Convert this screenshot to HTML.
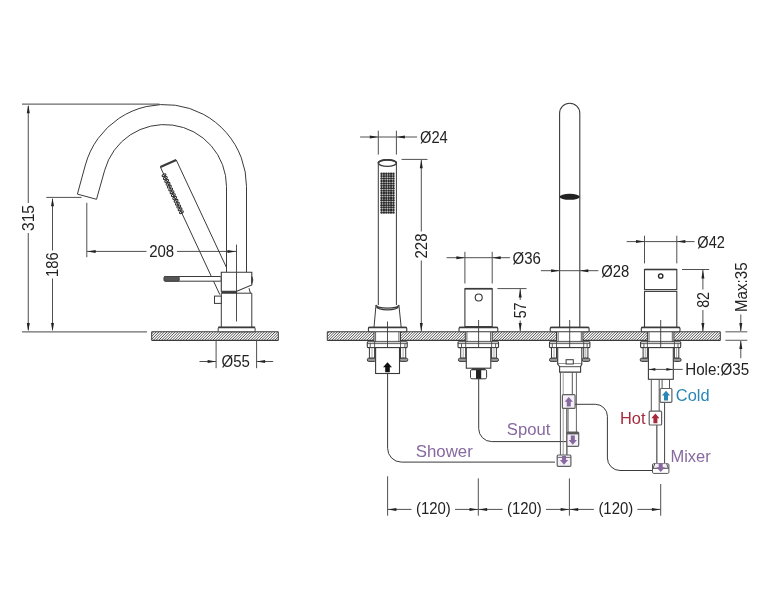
<!DOCTYPE html>
<html><head><meta charset="utf-8"><title>drawing</title>
<style>
html,body{margin:0;padding:0;background:#fff;}
svg{display:block;will-change:transform;}
text{font-family:"Liberation Sans",sans-serif;}
</style></head><body>
<svg width="771" height="600" viewBox="0 0 771 600">
<defs>
<pattern id="hatch" width="1.92" height="1.92" patternUnits="userSpaceOnUse" patternTransform="rotate(40)">
<rect x="0" y="0" width="0.95" height="1.92" fill="#3c3c3c"/>
</pattern>
<pattern id="knurl" x="380.4" y="172.2" width="2.383" height="2.406" patternUnits="userSpaceOnUse">
<rect width="2.4" height="2.42" fill="#fff"/>
<circle cx="1.19" cy="1.2" r="1.02" fill="#303030"/>
</pattern>
</defs>
<rect width="771" height="600" fill="#fff"/>
<line x1="22" y1="104.2" x2="159.5" y2="104.2" stroke="#6a6a6a" stroke-width="1.2"/>
<line x1="22" y1="331.9" x2="147" y2="331.9" stroke="#6a6a6a" stroke-width="1.2"/>
<line x1="28.3" y1="106" x2="28.3" y2="203" stroke="#6a6a6a" stroke-width="1.2"/>
<line x1="28.3" y1="233" x2="28.3" y2="330" stroke="#6a6a6a" stroke-width="1.2"/>
<polygon points="28.30,104.80 26.80,113.30 29.80,113.30" fill="#222"/>
<polygon points="28.30,331.50 26.80,323.00 29.80,323.00" fill="#222"/>
<text x="33.7" y="218" font-size="16" fill="#222" text-anchor="middle" textLength="26" lengthAdjust="spacingAndGlyphs" transform="rotate(-90 33.7 218)">315</text>
<line x1="46.3" y1="197.4" x2="81.6" y2="197.4" stroke="#505050" stroke-width="1"/>
<line x1="52.5" y1="199" x2="52.5" y2="250.5" stroke="#505050" stroke-width="1"/>
<line x1="52.5" y1="278.5" x2="52.5" y2="330" stroke="#505050" stroke-width="1"/>
<polygon points="52.50,197.80 51.00,206.30 54.00,206.30" fill="#222"/>
<polygon points="52.50,331.50 51.00,323.00 54.00,323.00" fill="#222"/>
<text x="58" y="264.7" font-size="16" fill="#222" text-anchor="middle" textLength="24.5" lengthAdjust="spacingAndGlyphs" transform="rotate(-90 58 264.7)">186</text>
<line x1="86.8" y1="202.8" x2="86.8" y2="257.2" stroke="#505050" stroke-width="1"/>
<line x1="86.8" y1="251.4" x2="146.5" y2="251.4" stroke="#505050" stroke-width="1"/>
<line x1="177" y1="251.4" x2="236.4" y2="251.4" stroke="#505050" stroke-width="1"/>
<polygon points="87.20,251.40 95.70,249.90 95.70,252.90" fill="#222"/>
<polygon points="236.00,251.40 227.50,249.90 227.50,252.90" fill="#222"/>
<text x="149.2" y="256.7" font-size="16" fill="#222" text-anchor="start" textLength="25" lengthAdjust="spacingAndGlyphs">208</text>
<clipPath id="hc1"><rect x="151.7" y="331.8" width="126.6" height="8.6"/></clipPath>
<g clip-path="url(#hc1)"><path d="M141.90 340.90L151.50 331.30M144.60 340.90L154.20 331.30M147.30 340.90L156.90 331.30M150.00 340.90L159.60 331.30M152.70 340.90L162.30 331.30M155.40 340.90L165.00 331.30M158.10 340.90L167.70 331.30M160.80 340.90L170.40 331.30M163.50 340.90L173.10 331.30M166.20 340.90L175.80 331.30M168.90 340.90L178.50 331.30M171.60 340.90L181.20 331.30M174.30 340.90L183.90 331.30M177.00 340.90L186.60 331.30M179.70 340.90L189.30 331.30M182.40 340.90L192.00 331.30M185.10 340.90L194.70 331.30M187.80 340.90L197.40 331.30M190.50 340.90L200.10 331.30M193.20 340.90L202.80 331.30M195.90 340.90L205.50 331.30M198.60 340.90L208.20 331.30M201.30 340.90L210.90 331.30M204.00 340.90L213.60 331.30M206.70 340.90L216.30 331.30M209.40 340.90L219.00 331.30M212.10 340.90L221.70 331.30M214.80 340.90L224.40 331.30M217.50 340.90L227.10 331.30M220.20 340.90L229.80 331.30M222.90 340.90L232.50 331.30M225.60 340.90L235.20 331.30M228.30 340.90L237.90 331.30M231.00 340.90L240.60 331.30M233.70 340.90L243.30 331.30M236.40 340.90L246.00 331.30M239.10 340.90L248.70 331.30M241.80 340.90L251.40 331.30M244.50 340.90L254.10 331.30M247.20 340.90L256.80 331.30M249.90 340.90L259.50 331.30M252.60 340.90L262.20 331.30M255.30 340.90L264.90 331.30M258.00 340.90L267.60 331.30M260.70 340.90L270.30 331.30M263.40 340.90L273.00 331.30M266.10 340.90L275.70 331.30M268.80 340.90L278.40 331.30M271.50 340.90L281.10 331.30M274.20 340.90L283.80 331.30M276.90 340.90L286.50 331.30" stroke="#444" stroke-width="0.92" fill="none"/></g>
<line x1="151.7" y1="331.8" x2="278.3" y2="331.8" stroke="#3a3a3a" stroke-width="1.1"/>
<line x1="151.7" y1="340.4" x2="278.3" y2="340.4" stroke="#3a3a3a" stroke-width="1.1"/>
<line x1="151.7" y1="331.8" x2="151.7" y2="340.4" stroke="#3a3a3a" stroke-width="1"/>
<line x1="278.3" y1="331.8" x2="278.3" y2="340.4" stroke="#3a3a3a" stroke-width="1"/>
<path d="M246.5 272 V186.5 A82 82 0 0 0 85.4 164.9 L77.4 194.1 L96.5 199.3 L104.7 170.2 A62 62 0 0 1 226.5 186.5 V272" fill="none" stroke="#3a3a3a" stroke-width="1"/>
<line x1="160.4" y1="167.1" x2="219.8" y2="294.6" stroke="#3a3a3a" stroke-width="1"/>
<line x1="176.2" y1="159.9" x2="226.5" y2="267.6" stroke="#3a3a3a" stroke-width="1"/>
<path d="M160.4 167.1 L176.2 159.9" fill="none" stroke="#3a3a3a" stroke-width="2.2"/>
<ellipse cx="164.00" cy="175.20" rx="2.1" ry="1.15" transform="rotate(-25 164.00 175.20)" fill="none" stroke="#2e2e2e" stroke-width="1.05"/>
<ellipse cx="165.34" cy="178.05" rx="2.1" ry="1.15" transform="rotate(-25 165.34 178.05)" fill="none" stroke="#2e2e2e" stroke-width="1.05"/>
<ellipse cx="166.68" cy="180.89" rx="2.1" ry="1.15" transform="rotate(-25 166.68 180.89)" fill="none" stroke="#2e2e2e" stroke-width="1.05"/>
<ellipse cx="168.02" cy="183.74" rx="2.1" ry="1.15" transform="rotate(-25 168.02 183.74)" fill="none" stroke="#2e2e2e" stroke-width="1.05"/>
<ellipse cx="169.35" cy="186.58" rx="2.1" ry="1.15" transform="rotate(-25 169.35 186.58)" fill="none" stroke="#2e2e2e" stroke-width="1.05"/>
<ellipse cx="170.69" cy="189.43" rx="2.1" ry="1.15" transform="rotate(-25 170.69 189.43)" fill="none" stroke="#2e2e2e" stroke-width="1.05"/>
<ellipse cx="172.03" cy="192.28" rx="2.1" ry="1.15" transform="rotate(-25 172.03 192.28)" fill="none" stroke="#2e2e2e" stroke-width="1.05"/>
<ellipse cx="173.37" cy="195.12" rx="2.1" ry="1.15" transform="rotate(-25 173.37 195.12)" fill="none" stroke="#2e2e2e" stroke-width="1.05"/>
<ellipse cx="174.71" cy="197.97" rx="2.1" ry="1.15" transform="rotate(-25 174.71 197.97)" fill="none" stroke="#2e2e2e" stroke-width="1.05"/>
<ellipse cx="176.05" cy="200.82" rx="2.1" ry="1.15" transform="rotate(-25 176.05 200.82)" fill="none" stroke="#2e2e2e" stroke-width="1.05"/>
<ellipse cx="177.38" cy="203.66" rx="2.1" ry="1.15" transform="rotate(-25 177.38 203.66)" fill="none" stroke="#2e2e2e" stroke-width="1.05"/>
<ellipse cx="178.72" cy="206.51" rx="2.1" ry="1.15" transform="rotate(-25 178.72 206.51)" fill="none" stroke="#2e2e2e" stroke-width="1.05"/>
<ellipse cx="180.06" cy="209.35" rx="2.1" ry="1.15" transform="rotate(-25 180.06 209.35)" fill="none" stroke="#2e2e2e" stroke-width="1.05"/>
<ellipse cx="181.40" cy="212.20" rx="2.1" ry="1.15" transform="rotate(-25 181.40 212.20)" fill="none" stroke="#2e2e2e" stroke-width="1.05"/>
<rect x="164.2" y="276.5" width="57.1" height="4.7" rx="1" fill="#fff" stroke="#3a3a3a" stroke-width="1"/>
<rect x="164.2" y="276.5" width="15.0" height="4.7" rx="1" fill="#555" stroke="#444" stroke-width="1"/>
<path d="M221.3 272.3 H251.8 V285 L236.8 291.3 H221.3 Z" fill="#fff" stroke="#3a3a3a" stroke-width="1.1"/>
<path d="M251.8 276.6 Q254 280 251.8 283.4 Z" fill="#333" stroke="#3a3a3a" stroke-width="0.8"/>
<path d="M221.3 292.2 H237" fill="none" stroke="#3a3a3a" stroke-width="2"/>
<path d="M221.3 293.2 H251.8 M249 288.2 L250.4 293.2" fill="none" stroke="#3a3a3a" stroke-width="1"/>
<line x1="221.3" y1="293.2" x2="221.3" y2="327.3" stroke="#3a3a3a" stroke-width="1"/>
<line x1="251.8" y1="293.2" x2="251.8" y2="327.3" stroke="#3a3a3a" stroke-width="1"/>
<rect x="214.5" y="296.1" width="6.8" height="7.3" rx="0" fill="#fff" stroke="#3a3a3a" stroke-width="1"/>
<rect x="218.2" y="327.4" width="36.9" height="4.4" rx="1" fill="#fff" stroke="#3a3a3a" stroke-width="1"/>
<path d="M218.2 327.4 H255.1" fill="none" stroke="#3a3a3a" stroke-width="1.6"/>
<line x1="236.5" y1="244.6" x2="236.5" y2="321.5" stroke="#3a3a3a" stroke-width="0.9"/>
<line x1="216.1" y1="340.4" x2="216.1" y2="368.2" stroke="#505050" stroke-width="1"/>
<line x1="256.6" y1="340.4" x2="256.6" y2="368.2" stroke="#505050" stroke-width="1"/>
<line x1="199.5" y1="361.5" x2="216.1" y2="361.5" stroke="#505050" stroke-width="1"/>
<line x1="256.6" y1="361.5" x2="273.2" y2="361.5" stroke="#505050" stroke-width="1"/>
<polygon points="216.10,361.50 207.60,360.00 207.60,363.00" fill="#222"/>
<polygon points="256.60,361.50 265.10,360.00 265.10,363.00" fill="#222"/>
<text x="221.5" y="367" font-size="16" fill="#222" text-anchor="start" textLength="28.4" lengthAdjust="spacingAndGlyphs">Ø55</text>
<clipPath id="hc2"><rect x="327.3" y="331.8" width="393.0" height="8.6"/></clipPath>
<g clip-path="url(#hc2)"><path d="M317.50 340.90L327.10 331.30M320.20 340.90L329.80 331.30M322.90 340.90L332.50 331.30M325.60 340.90L335.20 331.30M328.30 340.90L337.90 331.30M331.00 340.90L340.60 331.30M333.70 340.90L343.30 331.30M336.40 340.90L346.00 331.30M339.10 340.90L348.70 331.30M341.80 340.90L351.40 331.30M344.50 340.90L354.10 331.30M347.20 340.90L356.80 331.30M349.90 340.90L359.50 331.30M352.60 340.90L362.20 331.30M355.30 340.90L364.90 331.30M358.00 340.90L367.60 331.30M360.70 340.90L370.30 331.30M363.40 340.90L373.00 331.30M366.10 340.90L375.70 331.30M368.80 340.90L378.40 331.30M371.50 340.90L381.10 331.30M374.20 340.90L383.80 331.30M376.90 340.90L386.50 331.30M379.60 340.90L389.20 331.30M382.30 340.90L391.90 331.30M385.00 340.90L394.60 331.30M387.70 340.90L397.30 331.30M390.40 340.90L400.00 331.30M393.10 340.90L402.70 331.30M395.80 340.90L405.40 331.30M398.50 340.90L408.10 331.30M401.20 340.90L410.80 331.30M403.90 340.90L413.50 331.30M406.60 340.90L416.20 331.30M409.30 340.90L418.90 331.30M412.00 340.90L421.60 331.30M414.70 340.90L424.30 331.30M417.40 340.90L427.00 331.30M420.10 340.90L429.70 331.30M422.80 340.90L432.40 331.30M425.50 340.90L435.10 331.30M428.20 340.90L437.80 331.30M430.90 340.90L440.50 331.30M433.60 340.90L443.20 331.30M436.30 340.90L445.90 331.30M439.00 340.90L448.60 331.30M441.70 340.90L451.30 331.30M444.40 340.90L454.00 331.30M447.10 340.90L456.70 331.30M449.80 340.90L459.40 331.30M452.50 340.90L462.10 331.30M455.20 340.90L464.80 331.30M457.90 340.90L467.50 331.30M460.60 340.90L470.20 331.30M463.30 340.90L472.90 331.30M466.00 340.90L475.60 331.30M468.70 340.90L478.30 331.30M471.40 340.90L481.00 331.30M474.10 340.90L483.70 331.30M476.80 340.90L486.40 331.30M479.50 340.90L489.10 331.30M482.20 340.90L491.80 331.30M484.90 340.90L494.50 331.30M487.60 340.90L497.20 331.30M490.30 340.90L499.90 331.30M493.00 340.90L502.60 331.30M495.70 340.90L505.30 331.30M498.40 340.90L508.00 331.30M501.10 340.90L510.70 331.30M503.80 340.90L513.40 331.30M506.50 340.90L516.10 331.30M509.20 340.90L518.80 331.30M511.90 340.90L521.50 331.30M514.60 340.90L524.20 331.30M517.30 340.90L526.90 331.30M520.00 340.90L529.60 331.30M522.70 340.90L532.30 331.30M525.40 340.90L535.00 331.30M528.10 340.90L537.70 331.30M530.80 340.90L540.40 331.30M533.50 340.90L543.10 331.30M536.20 340.90L545.80 331.30M538.90 340.90L548.50 331.30M541.60 340.90L551.20 331.30M544.30 340.90L553.90 331.30M547.00 340.90L556.60 331.30M549.70 340.90L559.30 331.30M552.40 340.90L562.00 331.30M555.10 340.90L564.70 331.30M557.80 340.90L567.40 331.30M560.50 340.90L570.10 331.30M563.20 340.90L572.80 331.30M565.90 340.90L575.50 331.30M568.60 340.90L578.20 331.30M571.30 340.90L580.90 331.30M574.00 340.90L583.60 331.30M576.70 340.90L586.30 331.30M579.40 340.90L589.00 331.30M582.10 340.90L591.70 331.30M584.80 340.90L594.40 331.30M587.50 340.90L597.10 331.30M590.20 340.90L599.80 331.30M592.90 340.90L602.50 331.30M595.60 340.90L605.20 331.30M598.30 340.90L607.90 331.30M601.00 340.90L610.60 331.30M603.70 340.90L613.30 331.30M606.40 340.90L616.00 331.30M609.10 340.90L618.70 331.30M611.80 340.90L621.40 331.30M614.50 340.90L624.10 331.30M617.20 340.90L626.80 331.30M619.90 340.90L629.50 331.30M622.60 340.90L632.20 331.30M625.30 340.90L634.90 331.30M628.00 340.90L637.60 331.30M630.70 340.90L640.30 331.30M633.40 340.90L643.00 331.30M636.10 340.90L645.70 331.30M638.80 340.90L648.40 331.30M641.50 340.90L651.10 331.30M644.20 340.90L653.80 331.30M646.90 340.90L656.50 331.30M649.60 340.90L659.20 331.30M652.30 340.90L661.90 331.30M655.00 340.90L664.60 331.30M657.70 340.90L667.30 331.30M660.40 340.90L670.00 331.30M663.10 340.90L672.70 331.30M665.80 340.90L675.40 331.30M668.50 340.90L678.10 331.30M671.20 340.90L680.80 331.30M673.90 340.90L683.50 331.30M676.60 340.90L686.20 331.30M679.30 340.90L688.90 331.30M682.00 340.90L691.60 331.30M684.70 340.90L694.30 331.30M687.40 340.90L697.00 331.30M690.10 340.90L699.70 331.30M692.80 340.90L702.40 331.30M695.50 340.90L705.10 331.30M698.20 340.90L707.80 331.30M700.90 340.90L710.50 331.30M703.60 340.90L713.20 331.30M706.30 340.90L715.90 331.30M709.00 340.90L718.60 331.30M711.70 340.90L721.30 331.30M714.40 340.90L724.00 331.30M717.10 340.90L726.70 331.30M719.80 340.90L729.40 331.30" stroke="#444" stroke-width="0.92" fill="none"/></g>
<line x1="327.3" y1="331.8" x2="720.3" y2="331.8" stroke="#3a3a3a" stroke-width="1.1"/>
<line x1="327.3" y1="340.4" x2="720.3" y2="340.4" stroke="#3a3a3a" stroke-width="1.1"/>
<line x1="327.3" y1="331.8" x2="327.3" y2="340.4" stroke="#3a3a3a" stroke-width="1"/>
<line x1="720.3" y1="331.8" x2="720.3" y2="340.4" stroke="#3a3a3a" stroke-width="1"/>
<path d="M378.3 163.1 V305 M396.4 163.1 V305" fill="none" stroke="#3a3a3a" stroke-width="1"/>
<ellipse cx="387.35" cy="163.1" rx="9.05" ry="3.3" fill="#fff" stroke="#3a3a3a" stroke-width="1.4"/>
<path d="M378.3 163.1 A9.05 3.3 0 0 1 396.4 163.1" fill="none" stroke="#3a3a3a" stroke-width="1.8"/>
<g fill="#2c2c2c"><circle cx="381.55" cy="173.70" r="1.22"/><circle cx="383.93" cy="173.70" r="1.22"/><circle cx="386.31" cy="173.70" r="1.22"/><circle cx="388.69" cy="173.70" r="1.22"/><circle cx="391.07" cy="173.70" r="1.22"/><circle cx="393.45" cy="173.70" r="1.22"/><circle cx="381.55" cy="176.12" r="1.22"/><circle cx="383.93" cy="176.12" r="1.22"/><circle cx="386.31" cy="176.12" r="1.22"/><circle cx="388.69" cy="176.12" r="1.22"/><circle cx="391.07" cy="176.12" r="1.22"/><circle cx="393.45" cy="176.12" r="1.22"/><circle cx="381.55" cy="178.54" r="1.22"/><circle cx="383.93" cy="178.54" r="1.22"/><circle cx="386.31" cy="178.54" r="1.22"/><circle cx="388.69" cy="178.54" r="1.22"/><circle cx="391.07" cy="178.54" r="1.22"/><circle cx="393.45" cy="178.54" r="1.22"/><circle cx="381.55" cy="180.96" r="1.22"/><circle cx="383.93" cy="180.96" r="1.22"/><circle cx="386.31" cy="180.96" r="1.22"/><circle cx="388.69" cy="180.96" r="1.22"/><circle cx="391.07" cy="180.96" r="1.22"/><circle cx="393.45" cy="180.96" r="1.22"/><circle cx="381.55" cy="183.38" r="1.22"/><circle cx="383.93" cy="183.38" r="1.22"/><circle cx="386.31" cy="183.38" r="1.22"/><circle cx="388.69" cy="183.38" r="1.22"/><circle cx="391.07" cy="183.38" r="1.22"/><circle cx="393.45" cy="183.38" r="1.22"/><circle cx="381.55" cy="185.80" r="1.22"/><circle cx="383.93" cy="185.80" r="1.22"/><circle cx="386.31" cy="185.80" r="1.22"/><circle cx="388.69" cy="185.80" r="1.22"/><circle cx="391.07" cy="185.80" r="1.22"/><circle cx="393.45" cy="185.80" r="1.22"/><circle cx="381.55" cy="188.22" r="1.22"/><circle cx="383.93" cy="188.22" r="1.22"/><circle cx="386.31" cy="188.22" r="1.22"/><circle cx="388.69" cy="188.22" r="1.22"/><circle cx="391.07" cy="188.22" r="1.22"/><circle cx="393.45" cy="188.22" r="1.22"/><circle cx="381.55" cy="190.64" r="1.22"/><circle cx="383.93" cy="190.64" r="1.22"/><circle cx="386.31" cy="190.64" r="1.22"/><circle cx="388.69" cy="190.64" r="1.22"/><circle cx="391.07" cy="190.64" r="1.22"/><circle cx="393.45" cy="190.64" r="1.22"/><circle cx="381.55" cy="193.06" r="1.22"/><circle cx="383.93" cy="193.06" r="1.22"/><circle cx="386.31" cy="193.06" r="1.22"/><circle cx="388.69" cy="193.06" r="1.22"/><circle cx="391.07" cy="193.06" r="1.22"/><circle cx="393.45" cy="193.06" r="1.22"/><circle cx="381.55" cy="195.48" r="1.22"/><circle cx="383.93" cy="195.48" r="1.22"/><circle cx="386.31" cy="195.48" r="1.22"/><circle cx="388.69" cy="195.48" r="1.22"/><circle cx="391.07" cy="195.48" r="1.22"/><circle cx="393.45" cy="195.48" r="1.22"/><circle cx="381.55" cy="197.90" r="1.22"/><circle cx="383.93" cy="197.90" r="1.22"/><circle cx="386.31" cy="197.90" r="1.22"/><circle cx="388.69" cy="197.90" r="1.22"/><circle cx="391.07" cy="197.90" r="1.22"/><circle cx="393.45" cy="197.90" r="1.22"/><circle cx="381.55" cy="200.32" r="1.22"/><circle cx="383.93" cy="200.32" r="1.22"/><circle cx="386.31" cy="200.32" r="1.22"/><circle cx="388.69" cy="200.32" r="1.22"/><circle cx="391.07" cy="200.32" r="1.22"/><circle cx="393.45" cy="200.32" r="1.22"/><circle cx="381.55" cy="202.74" r="1.22"/><circle cx="383.93" cy="202.74" r="1.22"/><circle cx="386.31" cy="202.74" r="1.22"/><circle cx="388.69" cy="202.74" r="1.22"/><circle cx="391.07" cy="202.74" r="1.22"/><circle cx="393.45" cy="202.74" r="1.22"/><circle cx="381.55" cy="205.16" r="1.22"/><circle cx="383.93" cy="205.16" r="1.22"/><circle cx="386.31" cy="205.16" r="1.22"/><circle cx="388.69" cy="205.16" r="1.22"/><circle cx="391.07" cy="205.16" r="1.22"/><circle cx="393.45" cy="205.16" r="1.22"/><circle cx="381.55" cy="207.58" r="1.22"/><circle cx="383.93" cy="207.58" r="1.22"/><circle cx="386.31" cy="207.58" r="1.22"/><circle cx="388.69" cy="207.58" r="1.22"/><circle cx="391.07" cy="207.58" r="1.22"/><circle cx="393.45" cy="207.58" r="1.22"/><circle cx="381.55" cy="210.00" r="1.22"/><circle cx="383.93" cy="210.00" r="1.22"/><circle cx="386.31" cy="210.00" r="1.22"/><circle cx="388.69" cy="210.00" r="1.22"/><circle cx="391.07" cy="210.00" r="1.22"/><circle cx="393.45" cy="210.00" r="1.22"/><circle cx="381.55" cy="212.42" r="1.22"/><circle cx="383.93" cy="212.42" r="1.22"/><circle cx="386.31" cy="212.42" r="1.22"/><circle cx="388.69" cy="212.42" r="1.22"/><circle cx="391.07" cy="212.42" r="1.22"/><circle cx="393.45" cy="212.42" r="1.22"/></g>
<path d="M376 305 A11.5 3.4 0 0 0 398.9 305 M376.4 306.8 A11.2 3.6 0 0 0 398.5 306.8" fill="none" stroke="#3a3a3a" stroke-width="1.3"/>
<path d="M376 305 L374 327.4 M398.9 305 L401.2 327.4" fill="none" stroke="#3a3a3a" stroke-width="1"/>
<rect x="374" y="331.3" width="26.5" height="9.6" fill="#fff"/>
<line x1="374" y1="331.8" x2="374" y2="341.8" stroke="#3a3a3a" stroke-width="1"/>
<line x1="400.5" y1="331.8" x2="400.5" y2="341.8" stroke="#3a3a3a" stroke-width="1"/>
<line x1="375.6" y1="331.8" x2="375.6" y2="341.8" stroke="#3a3a3a" stroke-width="0.8"/>
<line x1="398.9" y1="331.8" x2="398.9" y2="341.8" stroke="#3a3a3a" stroke-width="0.8"/>
<rect x="368.4" y="327.4" width="38.4" height="4.3" rx="1.2" fill="#fff" stroke="#3a3a3a" stroke-width="1.1"/>
<path d="M368.4 327.4 H406.8" fill="none" stroke="#3a3a3a" stroke-width="1.5"/>
<rect x="367.3" y="341.8" width="39.9" height="5.8" rx="0.8" fill="#fff" stroke="#3a3a3a" stroke-width="1.1"/>
<line x1="367.3" y1="343.6" x2="407.2" y2="343.6" stroke="#3a3a3a" stroke-width="0.8"/>
<line x1="374.6" y1="341.8" x2="374.6" y2="347.6" stroke="#3a3a3a" stroke-width="0.8"/>
<line x1="400.5" y1="341.8" x2="400.5" y2="347.6" stroke="#3a3a3a" stroke-width="0.8"/>
<line x1="370.2" y1="343.6" x2="370.2" y2="347.6" stroke="#3a3a3a" stroke-width="0.8"/>
<line x1="404.9" y1="343.6" x2="404.9" y2="347.6" stroke="#3a3a3a" stroke-width="0.8"/>
<rect x="369.4" y="347.6" width="5.2" height="10.6" rx="0" fill="#fff" stroke="#3a3a3a" stroke-width="1"/>
<rect x="400.5" y="347.6" width="5.2" height="10.6" rx="0" fill="#fff" stroke="#3a3a3a" stroke-width="1"/>
<line x1="372.0" y1="347.6" x2="372.0" y2="358.2" stroke="#888" stroke-width="0.7"/>
<line x1="403.1" y1="347.6" x2="403.1" y2="358.2" stroke="#888" stroke-width="0.7"/>
<rect x="367.3" y="358.2" width="8.7" height="3.2" rx="1.5" fill="#999" stroke="#3a3a3a" stroke-width="1"/>
<rect x="399.5" y="358.2" width="8.3" height="3.2" rx="1.5" fill="#999" stroke="#3a3a3a" stroke-width="1"/>
<rect x="375.6" y="347.6" width="23.9" height="25.9" rx="0" fill="#fff" stroke="#3a3a3a" stroke-width="1.1"/>
<line x1="387.5" y1="321.5" x2="387.5" y2="347.6" stroke="#3a3a3a" stroke-width="0.9"/>
<polygon points="387.5,362.2 392,367.2 389.8,367.2 389.8,372.2 385.2,372.2 385.2,367.2 383,367.2" fill="#111"/>
<path d="M387.6 373.5 V448.3 A13.8 13.8 0 0 0 401.4 462.1 H555" fill="none" stroke="#3a3a3a" stroke-width="1"/>
<line x1="378.3" y1="130.7" x2="378.3" y2="154.6" stroke="#505050" stroke-width="1"/>
<line x1="396.4" y1="130.7" x2="396.4" y2="154.6" stroke="#505050" stroke-width="1"/>
<line x1="360.1" y1="137" x2="417.1" y2="137" stroke="#505050" stroke-width="1"/>
<polygon points="378.30,137.00 369.80,135.50 369.80,138.50" fill="#222"/>
<polygon points="396.40,137.00 404.90,135.50 404.90,138.50" fill="#222"/>
<text x="420" y="143.3" font-size="16" fill="#222" text-anchor="start" textLength="27.8" lengthAdjust="spacingAndGlyphs">Ø24</text>
<line x1="401.6" y1="159.4" x2="427.5" y2="159.4" stroke="#505050" stroke-width="1"/>
<line x1="421.3" y1="160" x2="421.3" y2="231.5" stroke="#505050" stroke-width="1"/>
<line x1="421.3" y1="260.5" x2="421.3" y2="331" stroke="#505050" stroke-width="1"/>
<polygon points="421.30,159.80 419.80,168.30 422.80,168.30" fill="#222"/>
<polygon points="421.30,331.60 419.80,323.10 422.80,323.10" fill="#222"/>
<text x="427.2" y="246" font-size="16" fill="#222" text-anchor="middle" textLength="25" lengthAdjust="spacingAndGlyphs" transform="rotate(-90 427.2 246)">228</text>
<rect x="464.9" y="288.7" width="27.3" height="37.9" rx="0" fill="#fff" stroke="#3a3a3a" stroke-width="1.1"/>
<path d="M464.9 288.7 H492.2" fill="none" stroke="#3a3a3a" stroke-width="1.6"/>
<circle cx="478.7" cy="297.5" r="3.5" fill="none" stroke="#333" stroke-width="1.1"/>
<rect x="465.3" y="331.3" width="26.9" height="9.6" fill="#fff"/>
<line x1="465.3" y1="331.8" x2="465.3" y2="341.8" stroke="#3a3a3a" stroke-width="1"/>
<line x1="492.2" y1="331.8" x2="492.2" y2="341.8" stroke="#3a3a3a" stroke-width="1"/>
<line x1="466.90000000000003" y1="331.8" x2="466.90000000000003" y2="341.8" stroke="#3a3a3a" stroke-width="0.8"/>
<line x1="490.59999999999997" y1="331.8" x2="490.59999999999997" y2="341.8" stroke="#3a3a3a" stroke-width="0.8"/>
<rect x="459" y="327.4" width="38.8" height="4.3" rx="1.2" fill="#fff" stroke="#3a3a3a" stroke-width="1.1"/>
<path d="M459 327.4 H497.8" fill="none" stroke="#3a3a3a" stroke-width="1.5"/>
<rect x="458" y="341.8" width="40.5" height="5.8" rx="0.8" fill="#fff" stroke="#3a3a3a" stroke-width="1.1"/>
<line x1="458" y1="343.6" x2="498.5" y2="343.6" stroke="#3a3a3a" stroke-width="0.8"/>
<line x1="465.7" y1="341.8" x2="465.7" y2="347.6" stroke="#3a3a3a" stroke-width="0.8"/>
<line x1="491.6" y1="341.8" x2="491.6" y2="347.6" stroke="#3a3a3a" stroke-width="0.8"/>
<line x1="461.5" y1="343.6" x2="461.5" y2="347.6" stroke="#3a3a3a" stroke-width="0.8"/>
<line x1="495.59999999999997" y1="343.6" x2="495.59999999999997" y2="347.6" stroke="#3a3a3a" stroke-width="0.8"/>
<rect x="460.7" y="347.6" width="5.0" height="10.6" rx="0" fill="#fff" stroke="#3a3a3a" stroke-width="1"/>
<rect x="491.6" y="347.6" width="4.8" height="10.6" rx="0" fill="#fff" stroke="#3a3a3a" stroke-width="1"/>
<line x1="463.2" y1="347.6" x2="463.2" y2="358.2" stroke="#888" stroke-width="0.7"/>
<line x1="494.0" y1="347.6" x2="494.0" y2="358.2" stroke="#888" stroke-width="0.7"/>
<rect x="458.4" y="358.2" width="8.9" height="3.2" rx="1.5" fill="#999" stroke="#3a3a3a" stroke-width="1"/>
<rect x="490.2" y="358.2" width="8.3" height="3.2" rx="1.5" fill="#999" stroke="#3a3a3a" stroke-width="1"/>
<rect x="466.3" y="347.6" width="24.5" height="20.6" rx="0" fill="#fff" stroke="#3a3a3a" stroke-width="1.1"/>
<line x1="478.6" y1="320" x2="478.6" y2="347.6" stroke="#3a3a3a" stroke-width="0.9"/>
<rect x="470.5" y="369.6" width="16.1" height="9.2" rx="1.5" fill="#fff" stroke="#3a3a3a" stroke-width="1"/>
<rect x="476" y="369.6" width="5.2" height="9.2" fill="#222"/>
<path d="M472 369.2 H485" fill="none" stroke="#3a3a3a" stroke-width="2"/>
<path d="M478.7 378.8 V428.6 A13 13 0 0 0 491.7 441.6 H567" fill="none" stroke="#3a3a3a" stroke-width="1"/>
<line x1="464.9" y1="251.8" x2="464.9" y2="283.5" stroke="#505050" stroke-width="1"/>
<line x1="492.2" y1="251.8" x2="492.2" y2="283.5" stroke="#505050" stroke-width="1"/>
<line x1="446.6" y1="257.7" x2="509.9" y2="257.7" stroke="#505050" stroke-width="1"/>
<polygon points="464.90,257.70 456.40,256.20 456.40,259.20" fill="#222"/>
<polygon points="492.20,257.70 500.70,256.20 500.70,259.20" fill="#222"/>
<text x="512.6" y="264" font-size="16" fill="#222" text-anchor="start" textLength="28.3" lengthAdjust="spacingAndGlyphs">Ø36</text>
<line x1="497.4" y1="288.6" x2="526.5" y2="288.6" stroke="#505050" stroke-width="1"/>
<line x1="520.2" y1="289" x2="520.2" y2="300" stroke="#505050" stroke-width="1"/>
<line x1="520.2" y1="320.5" x2="520.2" y2="331" stroke="#505050" stroke-width="1"/>
<polygon points="520.20,289.00 518.70,297.50 521.70,297.50" fill="#222"/>
<polygon points="520.20,331.60 518.70,323.10 521.70,323.10" fill="#222"/>
<text x="526.2" y="310.4" font-size="16" fill="#222" text-anchor="middle" textLength="15.8" lengthAdjust="spacingAndGlyphs" transform="rotate(-90 526.2 310.4)">57</text>
<path d="M559.6 327.4 V113.3 A10.1 10.1 0 0 1 579.8 113.3 V327.4" fill="none" stroke="#3a3a3a" stroke-width="1.1"/>
<ellipse cx="569.7" cy="196.8" rx="10.1" ry="3" fill="#222"/>
<rect x="556.5" y="331.3" width="26.4" height="9.6" fill="#fff"/>
<line x1="556.5" y1="331.8" x2="556.5" y2="341.8" stroke="#3a3a3a" stroke-width="1"/>
<line x1="582.9" y1="331.8" x2="582.9" y2="341.8" stroke="#3a3a3a" stroke-width="1"/>
<line x1="558.1" y1="331.8" x2="558.1" y2="341.8" stroke="#3a3a3a" stroke-width="0.8"/>
<line x1="581.3" y1="331.8" x2="581.3" y2="341.8" stroke="#3a3a3a" stroke-width="0.8"/>
<rect x="550.2" y="327.4" width="38.9" height="4.3" rx="1.2" fill="#fff" stroke="#3a3a3a" stroke-width="1.1"/>
<path d="M550.2 327.4 H589.1" fill="none" stroke="#3a3a3a" stroke-width="1.5"/>
<rect x="549.5" y="341.8" width="40.4" height="5.8" rx="0.8" fill="#fff" stroke="#3a3a3a" stroke-width="1.1"/>
<line x1="549.5" y1="343.6" x2="589.9" y2="343.6" stroke="#3a3a3a" stroke-width="0.8"/>
<line x1="556.5" y1="341.8" x2="556.5" y2="347.6" stroke="#3a3a3a" stroke-width="0.8"/>
<line x1="583.7" y1="341.8" x2="583.7" y2="347.6" stroke="#3a3a3a" stroke-width="0.8"/>
<line x1="552.3" y1="343.6" x2="552.3" y2="347.6" stroke="#3a3a3a" stroke-width="0.8"/>
<line x1="587.1" y1="343.6" x2="587.1" y2="347.6" stroke="#3a3a3a" stroke-width="0.8"/>
<rect x="551.5" y="347.6" width="5.0" height="10.6" rx="0" fill="#fff" stroke="#3a3a3a" stroke-width="1"/>
<rect x="583.7" y="347.6" width="4.2" height="10.6" rx="0" fill="#fff" stroke="#3a3a3a" stroke-width="1"/>
<line x1="554.0" y1="347.6" x2="554.0" y2="358.2" stroke="#888" stroke-width="0.7"/>
<line x1="585.8" y1="347.6" x2="585.8" y2="358.2" stroke="#888" stroke-width="0.7"/>
<rect x="549.5" y="358.2" width="8.5" height="3.2" rx="1.5" fill="#999" stroke="#3a3a3a" stroke-width="1"/>
<rect x="582.1" y="358.2" width="7.8" height="3.2" rx="1.5" fill="#999" stroke="#3a3a3a" stroke-width="1"/>
<rect x="557.7" y="347.6" width="24.1" height="16.4" rx="0" fill="#fff" stroke="#3a3a3a" stroke-width="1.1"/>
<path d="M557.7 364 L559.6 366.7 V372.1 H580.6 V366.7 L581.8 364" fill="#fff" stroke="#3a3a3a" stroke-width="1.1"/>
<line x1="559.6" y1="366.7" x2="580.6" y2="366.7" stroke="#3a3a3a" stroke-width="0.9"/>
<rect x="566.1" y="359.7" width="7.2" height="4.3" rx="0" fill="#fff" stroke="#3a3a3a" stroke-width="1"/>
<line x1="569.7" y1="320" x2="569.7" y2="347.6" stroke="#3a3a3a" stroke-width="0.9"/>
<line x1="560.4" y1="372.1" x2="560.4" y2="455" stroke="#555" stroke-width="1"/>
<line x1="563.2" y1="372.1" x2="563.2" y2="455" stroke="#888" stroke-width="0.8"/>
<line x1="566.9" y1="408" x2="566.9" y2="455" stroke="#444" stroke-width="1.2"/>
<line x1="572.3" y1="372.1" x2="572.3" y2="395" stroke="#555" stroke-width="1"/>
<line x1="576.4" y1="372.1" x2="576.4" y2="432" stroke="#666" stroke-width="1"/>
<line x1="568.3" y1="408" x2="568.3" y2="432" stroke="#777" stroke-width="0.8"/>
<line x1="540.9" y1="270.7" x2="598.4" y2="270.7" stroke="#505050" stroke-width="1"/>
<polygon points="559.60,270.70 551.10,269.20 551.10,272.20" fill="#222"/>
<polygon points="579.80,270.70 588.30,269.20 588.30,272.20" fill="#222"/>
<text x="601.3" y="277.2" font-size="16" fill="#222" text-anchor="start" textLength="28" lengthAdjust="spacingAndGlyphs">Ø28</text>
<rect x="562.4" y="394.7" width="12.7" height="13.7" rx="1" fill="#f4f0f7" stroke="#606060" stroke-width="1.2"/>
<polygon points="568.75,397.00 572.85,401.80 570.75,401.80 570.75,406.60 566.75,406.60 566.75,401.80 564.65,401.80" fill="#87689f"/>
<rect x="566.9" y="432" width="11.8" height="14.3" rx="1" fill="#f4f0f7" stroke="#606060" stroke-width="1.2"/>
<rect x="566.9" y="432" width="11.8" height="2.4" fill="#5a5a5a"/>
<polygon points="572.80,444.70 576.90,439.90 574.80,439.90 574.80,435.40 570.80,435.40 570.80,439.90 568.70,439.90" fill="#87689f"/>
<rect x="557.2" y="455" width="13.7" height="11.3" rx="1" fill="#f4f0f7" stroke="#606060" stroke-width="1.2"/>
<line x1="557.2" y1="457.4" x2="570.9" y2="457.4" stroke="#606060" stroke-width="0.9"/>
<polygon points="564.05,464.70 568.15,459.90 566.05,459.90 566.05,455.80 562.05,455.80 562.05,459.90 559.95,459.90" fill="#87689f"/>
<path d="M575.1 404.3 H595.4 A12 12 0 0 1 607.4 416.3 V457.9 A12.6 12.6 0 0 0 620 470.5 H652.5" fill="none" stroke="#3a3a3a" stroke-width="1"/>
<rect x="644.5" y="269.5" width="32.3" height="20.1" rx="0" fill="#fff" stroke="#3a3a3a" stroke-width="1.1"/>
<path d="M644.5 269.5 H676.8" fill="none" stroke="#3a3a3a" stroke-width="1.6"/>
<rect x="644.5" y="291.4" width="32.3" height="36.1" rx="0" fill="#fff" stroke="#3a3a3a" stroke-width="1.1"/>
<circle cx="660.7" cy="276" r="2.2" fill="#fff" stroke="#222" stroke-width="1.3"/>
<rect x="647.4" y="331.3" width="26.5" height="9.6" fill="#fff"/>
<line x1="647.4" y1="331.8" x2="647.4" y2="341.8" stroke="#3a3a3a" stroke-width="1"/>
<line x1="673.9" y1="331.8" x2="673.9" y2="341.8" stroke="#3a3a3a" stroke-width="1"/>
<line x1="649.0" y1="331.8" x2="649.0" y2="341.8" stroke="#3a3a3a" stroke-width="0.8"/>
<line x1="672.3" y1="331.8" x2="672.3" y2="341.8" stroke="#3a3a3a" stroke-width="0.8"/>
<rect x="641.3" y="327.4" width="38.7" height="4.3" rx="1.2" fill="#fff" stroke="#3a3a3a" stroke-width="1.1"/>
<path d="M641.3 327.4 H680" fill="none" stroke="#3a3a3a" stroke-width="1.5"/>
<rect x="640.6" y="341.8" width="40.1" height="5.8" rx="0.8" fill="#fff" stroke="#3a3a3a" stroke-width="1.1"/>
<line x1="640.6" y1="343.6" x2="680.7" y2="343.6" stroke="#3a3a3a" stroke-width="0.8"/>
<line x1="647.4" y1="341.8" x2="647.4" y2="347.6" stroke="#3a3a3a" stroke-width="0.8"/>
<line x1="674.4" y1="341.8" x2="674.4" y2="347.6" stroke="#3a3a3a" stroke-width="0.8"/>
<line x1="643.9" y1="343.6" x2="643.9" y2="347.6" stroke="#3a3a3a" stroke-width="0.8"/>
<line x1="678.0" y1="343.6" x2="678.0" y2="347.6" stroke="#3a3a3a" stroke-width="0.8"/>
<rect x="643.1" y="347.6" width="4.3" height="10.6" rx="0" fill="#fff" stroke="#3a3a3a" stroke-width="1"/>
<rect x="674.4" y="347.6" width="4.4" height="10.6" rx="0" fill="#fff" stroke="#3a3a3a" stroke-width="1"/>
<line x1="645.25" y1="347.6" x2="645.25" y2="358.2" stroke="#888" stroke-width="0.7"/>
<line x1="676.5999999999999" y1="347.6" x2="676.5999999999999" y2="358.2" stroke="#888" stroke-width="0.7"/>
<rect x="640.2" y="358.2" width="8.8" height="3.2" rx="1.5" fill="#999" stroke="#3a3a3a" stroke-width="1"/>
<rect x="672.9" y="358.2" width="8.2" height="3.2" rx="1.5" fill="#999" stroke="#3a3a3a" stroke-width="1"/>
<rect x="648.4" y="347.6" width="24.9" height="31.7" rx="0" fill="#fff" stroke="#3a3a3a" stroke-width="1.1"/>
<line x1="660.7" y1="320" x2="660.7" y2="347.6" stroke="#3a3a3a" stroke-width="0.9"/>
<line x1="644.5" y1="235.7" x2="644.5" y2="263.4" stroke="#505050" stroke-width="1"/>
<line x1="676.8" y1="235.7" x2="676.8" y2="263.4" stroke="#505050" stroke-width="1"/>
<line x1="626.7" y1="241.6" x2="694.6" y2="241.6" stroke="#505050" stroke-width="1"/>
<polygon points="644.50,241.60 636.00,240.10 636.00,243.10" fill="#222"/>
<polygon points="676.80,241.60 685.30,240.10 685.30,243.10" fill="#222"/>
<text x="697.3" y="248" font-size="16" fill="#222" text-anchor="start" textLength="27.6" lengthAdjust="spacingAndGlyphs">Ø42</text>
<line x1="682" y1="269.5" x2="709.2" y2="269.5" stroke="#505050" stroke-width="1"/>
<line x1="702.9" y1="270" x2="702.9" y2="289.5" stroke="#505050" stroke-width="1"/>
<line x1="702.9" y1="310" x2="702.9" y2="331" stroke="#505050" stroke-width="1"/>
<polygon points="702.90,269.90 701.40,278.40 704.40,278.40" fill="#222"/>
<polygon points="702.90,331.60 701.40,323.10 704.40,323.10" fill="#222"/>
<text x="709.4" y="299.9" font-size="16" fill="#222" text-anchor="middle" textLength="15.8" lengthAdjust="spacingAndGlyphs" transform="rotate(-90 709.4 299.9)">82</text>
<line x1="725.4" y1="331.8" x2="747.3" y2="331.8" stroke="#666" stroke-width="1.1"/>
<line x1="725.4" y1="340.3" x2="747.3" y2="340.3" stroke="#666" stroke-width="1.1"/>
<line x1="740.8" y1="314.5" x2="740.8" y2="331" stroke="#505050" stroke-width="1"/>
<line x1="740.8" y1="341" x2="740.8" y2="358.2" stroke="#505050" stroke-width="1"/>
<polygon points="740.80,331.60 739.30,323.10 742.30,323.10" fill="#222"/>
<polygon points="740.80,340.50 739.30,349.00 742.30,349.00" fill="#222"/>
<text x="747.4" y="287.2" font-size="16" fill="#222" text-anchor="middle" textLength="49.5" lengthAdjust="spacingAndGlyphs" transform="rotate(-90 747.4 287.2)">Max:35</text>
<line x1="648.4" y1="369.4" x2="682.7" y2="369.4" stroke="#505050" stroke-width="1"/>
<polygon points="648.80,369.40 655.30,368.00 655.30,370.80" fill="#222"/>
<polygon points="672.90,369.40 666.40,368.00 666.40,370.80" fill="#222"/>
<text x="685.2" y="374.9" font-size="16" fill="#222" text-anchor="start" textLength="64" lengthAdjust="spacingAndGlyphs">Hole:Ø35</text>
<line x1="651.3" y1="379.3" x2="651.3" y2="411.2" stroke="#555" stroke-width="1"/>
<line x1="659.2" y1="379.3" x2="659.2" y2="411.2" stroke="#555" stroke-width="1"/>
<line x1="662.1" y1="379.3" x2="662.1" y2="388.5" stroke="#555" stroke-width="1"/>
<line x1="669.5" y1="379.3" x2="669.5" y2="388.5" stroke="#555" stroke-width="1"/>
<line x1="664.6" y1="402.3" x2="664.6" y2="463.7" stroke="#444" stroke-width="1"/>
<line x1="656.8" y1="425" x2="656.8" y2="463.7" stroke="#666" stroke-width="1.4"/>
<rect x="660.1" y="388.5" width="11.8" height="13.8" rx="1" fill="#fff" stroke="#606060" stroke-width="1.2"/>
<polygon points="666.00,390.80 670.10,395.60 668.00,395.60 668.00,400.50 664.00,400.50 664.00,395.60 661.90,395.60" fill="#2a86b4"/>
<rect x="649.2" y="411.2" width="12.4" height="13.8" rx="1" fill="#fff" stroke="#606060" stroke-width="1.2"/>
<polygon points="655.40,413.50 659.50,418.30 657.40,418.30 657.40,423.20 653.40,423.20 653.40,418.30 651.30,418.30" fill="#a62a3c"/>
<text x="675.8" y="400.6" font-size="16" fill="#2a86b4" text-anchor="start" textLength="33.7" lengthAdjust="spacingAndGlyphs">Cold</text>
<text x="620" y="423.8" font-size="16" fill="#a62a3c" text-anchor="start" textLength="25.5" lengthAdjust="spacingAndGlyphs">Hot</text>
<rect x="652.5" y="463.7" width="16.4" height="9.7" rx="1.2" fill="#fff" stroke="#555" stroke-width="1"/>
<path d="M654.8 463.7 L653 468.3 H668.4 L666.6 463.7" fill="#f3eff6" stroke="#3a3a3a" stroke-width="0.9"/>
<polygon points="660.7,472 656.4,467.3 658.7,467.3 658.7,463 662.7,463 662.7,467.3 665,467.3" fill="#87689f"/>
<text x="670.5" y="462.3" font-size="16" fill="#87689f" text-anchor="start" textLength="40.2" lengthAdjust="spacingAndGlyphs">Mixer</text>
<text x="506.8" y="435.4" font-size="16" fill="#87689f" text-anchor="start" textLength="43.5" lengthAdjust="spacingAndGlyphs">Spout</text>
<text x="415.8" y="456.6" font-size="16.5" fill="#87689f" text-anchor="start" textLength="57" lengthAdjust="spacingAndGlyphs">Shower</text>
<line x1="387.6" y1="476.3" x2="387.6" y2="515.7" stroke="#505050" stroke-width="1"/>
<line x1="478.3" y1="478.4" x2="478.3" y2="515.7" stroke="#505050" stroke-width="1"/>
<line x1="569.4" y1="478.4" x2="569.4" y2="515.7" stroke="#505050" stroke-width="1"/>
<line x1="660.7" y1="484" x2="660.7" y2="515.7" stroke="#505050" stroke-width="1"/>
<line x1="387.6" y1="509.4" x2="411.5" y2="509.4" stroke="#505050" stroke-width="1"/>
<line x1="455" y1="509.4" x2="478.3" y2="509.4" stroke="#505050" stroke-width="1"/>
<polygon points="387.90,509.40 396.40,507.90 396.40,510.90" fill="#222"/>
<polygon points="478.00,509.40 469.50,507.90 469.50,510.90" fill="#222"/>
<text x="416" y="514.2" font-size="16" fill="#222" text-anchor="start" textLength="34.8" lengthAdjust="spacingAndGlyphs">(120)</text>
<line x1="478.3" y1="509.4" x2="502.5" y2="509.4" stroke="#505050" stroke-width="1"/>
<line x1="546" y1="509.4" x2="569.4" y2="509.4" stroke="#505050" stroke-width="1"/>
<polygon points="478.60,509.40 487.10,507.90 487.10,510.90" fill="#222"/>
<polygon points="569.10,509.40 560.60,507.90 560.60,510.90" fill="#222"/>
<text x="507" y="514.2" font-size="16" fill="#222" text-anchor="start" textLength="34.8" lengthAdjust="spacingAndGlyphs">(120)</text>
<line x1="569.4" y1="509.4" x2="593.9" y2="509.4" stroke="#505050" stroke-width="1"/>
<line x1="637.4" y1="509.4" x2="660.7" y2="509.4" stroke="#505050" stroke-width="1"/>
<polygon points="569.70,509.40 578.20,507.90 578.20,510.90" fill="#222"/>
<polygon points="660.40,509.40 651.90,507.90 651.90,510.90" fill="#222"/>
<text x="598.4" y="514.2" font-size="16" fill="#222" text-anchor="start" textLength="34.8" lengthAdjust="spacingAndGlyphs">(120)</text>
</svg>
</body></html>
